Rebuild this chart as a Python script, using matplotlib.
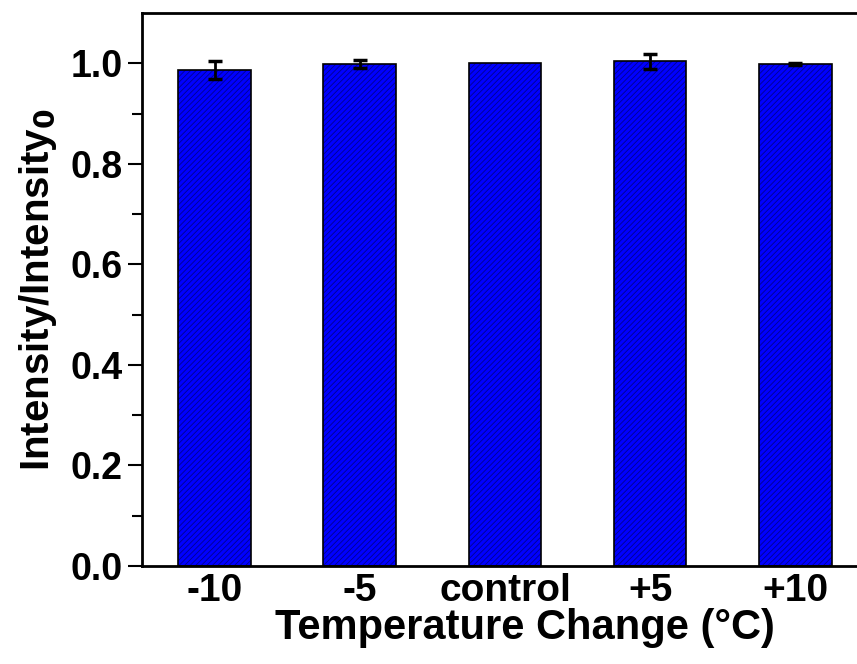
import matplotlib.pyplot as plt
import numpy as np

plt.rcParams['font.family'] = ['Liberation Sans', 'DejaVu Sans']
plt.rcParams['font.weight'] = 'bold'
plt.rcParams['hatch.linewidth'] = 0.6

labels = ['-10', '-5', 'control', '+5', '+10']
values = [0.986, 0.998, 1.000, 1.004, 0.998]
errors = [0.018, 0.008, 0.0, 0.015, 0.002]

x = np.arange(1, len(labels) + 1)
v = np.array(values)
e = np.array(errors)
has_err = e > 0

fig = plt.figure(figsize=(8.57, 6.64), dpi=100)
ax = fig.add_axes([0.1657, 0.1476, 0.8471, 0.8328])

# hatched fill, then black outline on top
ax.bar(x, values, width=0.5, color='#0000ff', edgecolor='#000090',
       hatch='//////', linewidth=0, zorder=2)
ax.bar(x, values, width=0.5, fill=False, edgecolor='black',
       linewidth=1.2, zorder=3)
ax.errorbar(x[has_err], v[has_err], yerr=e[has_err], fmt='none',
            ecolor='black', elinewidth=2, capsize=5, capthick=2.5, zorder=4)

ax.set_xlim(0.5, 5.5)
ax.set_ylim(0, 1.1)
ax.set_xticks(x)
ax.set_xticklabels(labels)
ax.set_yticks(np.arange(0, 1.01, 0.2))
ax.set_yticklabels([f'{t:.1f}' for t in np.arange(0, 1.01, 0.2)])
ax.set_yticks(np.arange(0.1, 1.1, 0.2), minor=True)

ax.tick_params(axis='x', length=0, labelsize=28, pad=5)
ax.tick_params(axis='y', which='major', direction='out', length=10,
               width=1.5, labelsize=27, pad=4)
ax.tick_params(axis='y', which='minor', direction='out', length=7,
               width=1.5)
for s in ax.spines.values():
    s.set_linewidth(2)

# the original plot is cropped on the right, so the label sits right of centre
ax.set_xlabel('Temperature Change (°C)', fontsize=30, fontweight='bold',
              labelpad=-1, x=0.528)
ax.set_ylabel('Intensity/Intensity$_\\mathbf{0}$', fontsize=29,
              fontweight='bold', labelpad=8)

plt.savefig('out.png', dpi=100)
